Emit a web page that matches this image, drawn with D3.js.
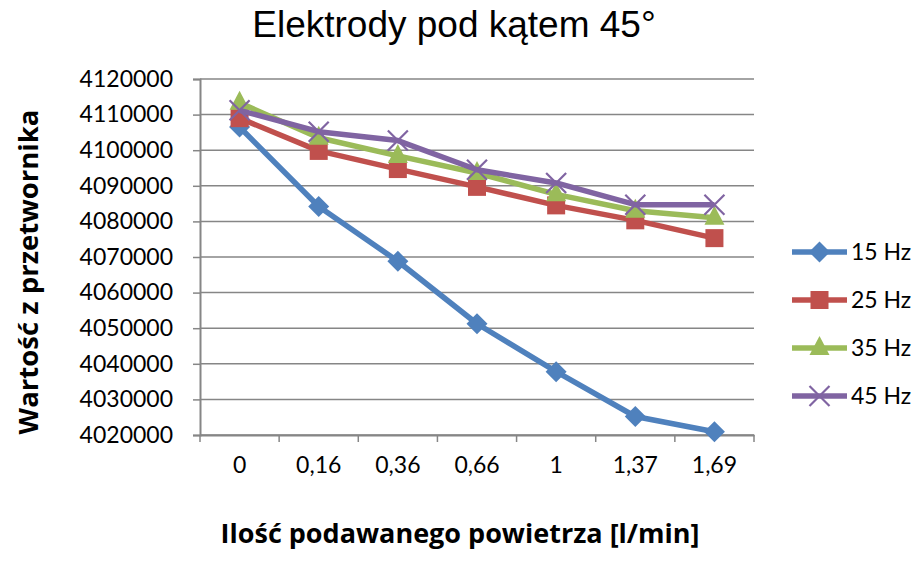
<!DOCTYPE html>
<html>
<head>
<meta charset="utf-8">
<script src="https://cdn.jsdelivr.net/npm/d3@7/dist/d3.min.js"></script>
<style>
  html, body { margin: 0; padding: 0; background: #fff; }
  svg { display: block; }
</style>
</head>
<body>
<svg id="chart" width="922" height="565"></svg>
<script>
// Air flow categories (l/min) and converter readings for each frequency
const categories = ["0", "0,16", "0,36", "0,66", "1", "1,37", "1,69"];
const hz15 = [4106500, 4084200, 4068800, 4051250, 4037800, 4025200, 4020900];
const hz25 = [4109000, 4099800, 4094700, 4089700, 4084500, 4080300, 4075300];
const hz35 = [4113300, 4103500, 4098400, 4093600, 4087600, 4083000, 4081000];
const hz45 = [4111200, 4105200, 4102700, 4094500, 4090800, 4084700, 4084700];
const seriesNames = ["15 Hz", "25 Hz", "35 Hz", "45 Hz"];
const yTicks = [4020000, 4030000, 4040000, 4050000, 4060000, 4070000, 4080000, 4090000, 4100000, 4110000, 4120000];

const series = [
  { name: seriesNames[0], values: hz15, color: "#4F81BD", marker: "diamond" },
  { name: seriesNames[1], values: hz25, color: "#C0504D", marker: "square" },
  { name: seriesNames[2], values: hz35, color: "#9BBB59", marker: "triangle" },
  { name: seriesNames[3], values: hz45, color: "#8064A2", marker: "cross" }
];

const svg = d3.select("#chart");
const plot = { left: 200, right: 754, top: 79, bottom: 435 };
const labelFont = "Lato, 'Open Sans', sans-serif";
const titleFont = "'Open Sans', Lato, sans-serif";
const gridColor = "#868686";

const x = d3.scaleBand().domain(categories).range([plot.left, plot.right]).padding(0);
const y = d3.scaleLinear().domain([4020000, 4120000]).range([plot.bottom, plot.top]);

// Horizontal gridlines
svg.append("g")
  .selectAll("line")
  .data(yTicks)
  .join("line")
  .attr("x1", plot.left).attr("x2", plot.right)
  .attr("y1", d => y(d)).attr("y2", d => y(d))
  .attr("stroke", gridColor).attr("stroke-width", 1.5);

// Y axis
const yAxis = svg.append("g")
  .attr("transform", `translate(${plot.left},0)`)
  .call(d3.axisLeft(y).tickValues(yTicks).tickFormat(d3.format("d")).tickSize(7).tickPadding(20));
yAxis.select(".domain").attr("stroke", gridColor).attr("stroke-width", 2);
yAxis.selectAll(".tick line").attr("stroke", gridColor).attr("stroke-width", 1.5);
yAxis.selectAll(".tick text")
  .attr("font-family", labelFont).attr("font-size", 23).attr("fill", "#000");

// X axis: ticks sit on category boundaries
const xAxis = svg.append("g")
  .attr("transform", `translate(0,${plot.bottom})`)
  .call(d3.axisBottom(x).tickSize(0).tickPadding(22));
xAxis.select(".domain").attr("stroke", gridColor).attr("stroke-width", 2);
xAxis.selectAll(".tick text")
  .attr("font-family", labelFont).attr("font-size", 23).attr("fill", "#000");
const boundaries = categories.map(c => x(c)).concat([plot.right]);
xAxis.selectAll(".boundary")
  .data(boundaries)
  .join("line")
  .attr("class", "boundary")
  .attr("x1", d => d).attr("x2", d => d)
  .attr("y1", 0).attr("y2", 7)
  .attr("stroke", gridColor).attr("stroke-width", 1.5);

// Marker drawing
function drawMarker(g, type, color) {
  if (type === "diamond") {
    g.append("path").attr("d", "M0,-10.5L10.5,0L0,10.5L-10.5,0Z").attr("fill", color);
  } else if (type === "square") {
    g.append("rect").attr("x", -9).attr("y", -9).attr("width", 18).attr("height", 18).attr("fill", color);
  } else if (type === "triangle") {
    g.append("path").attr("d", "M0,-12L10,7L-10,7Z").attr("fill", color);
  } else if (type === "cross") {
    g.append("path").attr("d", "M-10,-10L10,10M-10,10L10,-10")
      .attr("stroke", color).attr("stroke-width", 2.2).attr("fill", "none");
  }
}

const line = d3.line()
  .x((d, i) => x(categories[i]) + x.bandwidth() / 2)
  .y(d => y(d));

series.forEach(s => {
  const g = svg.append("g");
  g.append("path")
    .attr("d", line(s.values))
    .attr("fill", "none")
    .attr("stroke", s.color)
    .attr("stroke-width", 5.5)
    .attr("stroke-linejoin", "round");
  s.values.forEach((v, i) => {
    const m = g.append("g")
      .attr("transform", `translate(${x(categories[i]) + x.bandwidth() / 2},${y(v)})`);
    drawMarker(m, s.marker, s.color);
  });
});

// Legend
const legendRows = [252, 300, 348, 396];
series.forEach((s, i) => {
  const g = svg.append("g").attr("transform", `translate(0,${legendRows[i]})`);
  g.append("line").attr("x1", 792).attr("x2", 847).attr("y1", 0).attr("y2", 0)
    .attr("stroke", s.color).attr("stroke-width", 5.5);
  const m = g.append("g").attr("transform", "translate(819.5,0)");
  drawMarker(m, s.marker, s.color);
  g.append("text").attr("x", 851).attr("y", 0).attr("dy", "0.35em")
    .attr("font-family", labelFont).attr("font-size", 23).attr("fill", "#000")
    .text(s.name);
});

// Title and axis titles
svg.append("text")
  .attr("x", 454).attr("y", 37)
  .attr("text-anchor", "middle")
  .attr("font-family", "'Liberation Sans', Arial, sans-serif")
  .attr("font-size", 37).attr("fill", "#000")
  .text("Elektrody pod kątem 45°");

svg.append("text")
  .attr("x", 460).attr("y", 543)
  .attr("text-anchor", "middle")
  .attr("font-family", titleFont).attr("font-weight", "bold")
  .attr("font-size", 27).attr("fill", "#000")
  .text("Ilość podawanego powietrza [l/min]");

svg.append("text")
  .attr("transform", "translate(38,272) rotate(-90)")
  .attr("text-anchor", "middle")
  .attr("font-family", titleFont).attr("font-weight", "bold")
  .attr("font-size", 27.5).attr("fill", "#000")
  .text("Wartość z przetwornika");
</script>
</body>
</html>
